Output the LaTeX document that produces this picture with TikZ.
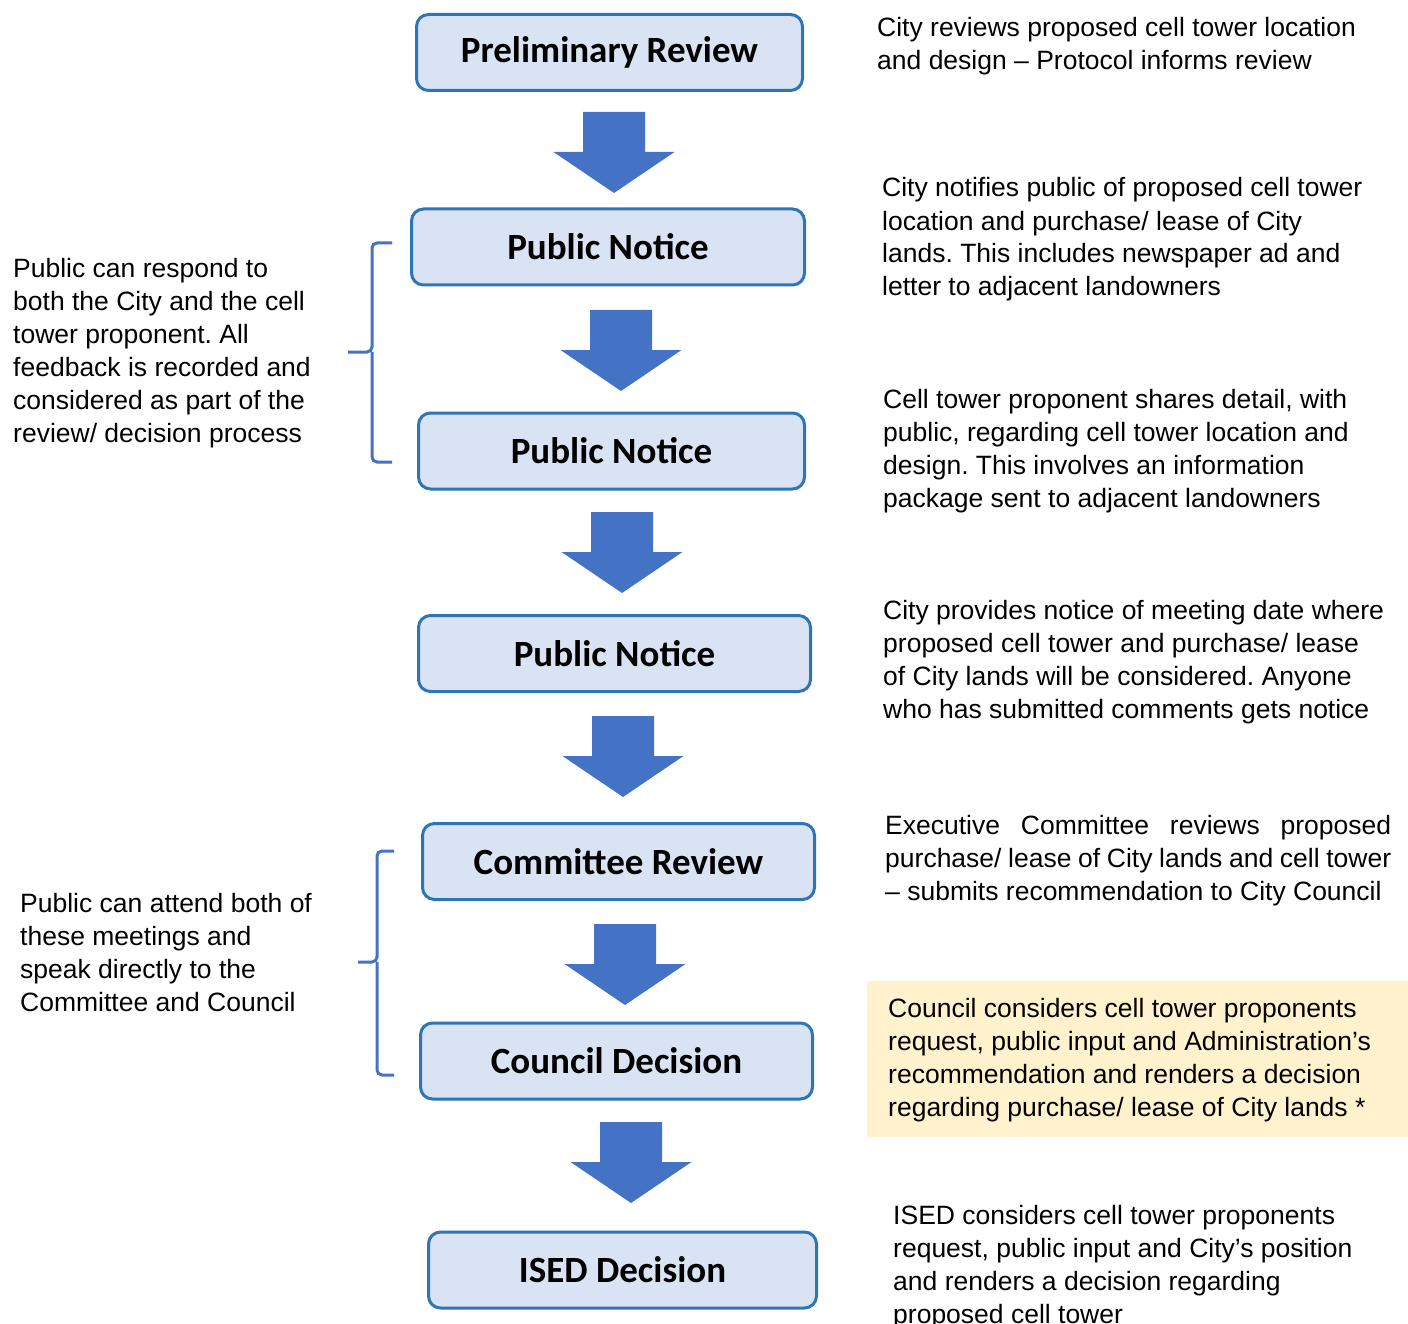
\documentclass[tikz,border=0pt]{standalone}
\usepackage{fontspec}
\setmainfont{Liberation Sans}
\newfontfamily\stagefont{Carlito}
\frenchspacing

\definecolor{stagefill}{HTML}{DAE3F3}
\definecolor{stageline}{HTML}{2E75B6}
\definecolor{flowblue}{HTML}{4472C4}
\definecolor{notefill}{HTML}{FFF2CC}

\tikzset{
  stage/.style={draw=stageline, line width=3pt, fill=stagefill, rounded corners=12pt,
    minimum height=76pt, inner sep=0pt, font=\stagefont\bfseries\fontsize{37}{40}\selectfont},
  % anchored at the baseline of the last line
  note/.style={anchor=base west, align=left, inner sep=0pt,
    font=\fontsize{26.5}{33}\selectfont},
  brace/.style={draw=flowblue, line width=3pt, rounded corners=5pt},
}

\begin{document}
\begin{tikzpicture}[x=1pt,y=-1pt]
\useasboundingbox (0,0) rectangle (1408,1324);

% the steps
\node[stage, minimum width=386pt] (prelim) at (609.5,52.5) {Preliminary Review};
\node[stage, minimum width=393pt] (notice1) at (608,247) {Public Notice};
\node[stage, minimum width=386pt] (notice2) at (611.5,451) {Public Notice};
\node[stage, minimum width=392pt] (notice3) at (614.5,653.5) {Public Notice};
\node[stage, minimum width=392pt] (committee) at (618.5,861.5) {Committee Review};
\node[stage, minimum width=392pt] (council) at (616.5,1061) {Council Decision};
\node[stage, minimum width=388pt] (ised) at (622.5,1270) {ISED Decision};

% block arrows between the steps (x of tip / y of top)
\foreach \x/\y in {614/112, 621/310, 622/512, 623/716, 625/924, 631/1122}
  \fill[flowblue] (\x-31,\y) -- (\x+31,\y) -- (\x+31,\y+40) -- (\x+60.5,\y+40)
    -- (\x,\y+81) -- (\x-60.5,\y+40) -- (\x-31,\y+40) -- cycle;

% notes on the right
\node[note] (n1) at (877,70) {City reviews proposed cell tower location\\
  and design -- Protocol informs review};
\node[note] (n2) at (882,296) {City notifies public of proposed cell tower\\
  location and purchase/ lease of City\\
  lands. This includes newspaper ad and\\
  letter to adjacent landowners};
\node[note] (n3) at (883,507) {Cell tower proponent shares detail, with\\
  public, regarding cell tower location and\\
  design. This involves an information\\
  package sent to adjacent landowners};
\node[note] (n4) at (883,718) {City provides notice of meeting date where\\
  proposed cell tower and purchase/ lease\\
  of City lands will be considered. Anyone\\
  who has submitted comments gets notice};
\node[note, anchor=north west, text width=506pt, align=justify] (n5) at (885,815)
  {Executive Committee reviews proposed\linebreak
  purchase/ lease of City lands and cell tower\linebreak
  -- submits recommendation to City Council};
\fill[notefill] (867,981) rectangle (1408,1137);
\node[note] (n6) at (888,1116) {Council considers cell tower proponents\\
  request, public input and Administration’s\\
  recommendation and renders a decision\\
  regarding purchase/ lease of City lands *};
\node[note] (n7) at (893,1323) {ISED considers cell tower proponents\\
  request, public input and City’s position\\
  and renders a decision regarding\\
  proposed cell tower};

% notes on the left with their braces
\node[note] (l1) at (13,442) {Public can respond to\\
  both the City and the cell\\
  tower proponent. All\\
  feedback is recorded and\\
  considered as part of the\\
  review/ decision process};
\draw[brace] (392,243) -- (372,243) -- (372,352) -- (348,352);
\draw[brace] (392,462) -- (372,462) -- (372,352);

\node[note] (l2) at (20,1011) {Public can attend both of\\
  these meetings and\\
  speak directly to the\\
  Committee and Council};
\draw[brace] (394,851) -- (377,851) -- (377,962) -- (358,962);
\draw[brace] (394,1075) -- (377,1075) -- (377,962);
\end{tikzpicture}
\end{document}
